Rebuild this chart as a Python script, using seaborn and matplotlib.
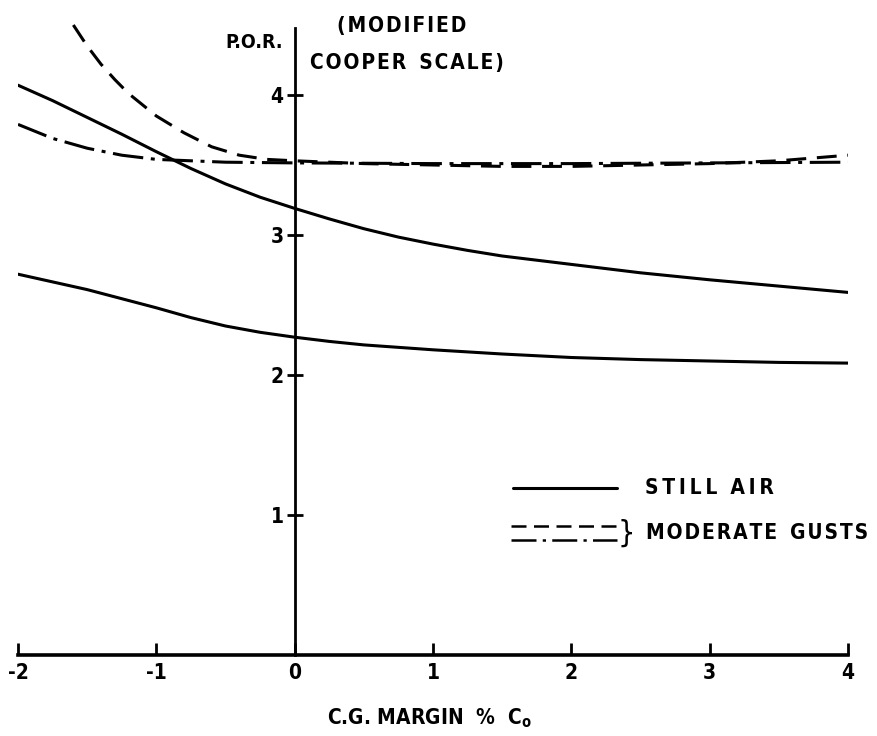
import matplotlib
matplotlib.use("Agg")
import matplotlib.pyplot as plt
import seaborn as sns

# ---- data ----
still_hi_x = [-2.0, -1.75, -1.5, -1.25, -1.0, -0.75, -0.5, -0.25, 0.0, 0.25, 0.5, 0.75,
              1.0, 1.25, 1.5, 1.75, 2.0, 2.5, 3.0, 3.5, 4.0]
still_hi_y = [4.07, 3.96, 3.84, 3.72, 3.595, 3.475, 3.365, 3.27, 3.19, 3.115, 3.045, 2.985,
              2.935, 2.89, 2.85, 2.82, 2.79, 2.73, 2.68, 2.635, 2.59]

still_lo_x = [-2.0, -1.5, -1.0, -0.75, -0.5, -0.25, 0.0, 0.25, 0.5, 1.0, 1.5, 2.0, 2.5, 3.0, 3.5, 4.0]
still_lo_y = [2.72, 2.61, 2.48, 2.41, 2.35, 2.305, 2.27, 2.24, 2.215, 2.18, 2.15, 2.125, 2.11, 2.10, 2.09, 2.085]

gust_dash_x = [-1.6, -1.5, -1.4, -1.3, -1.2, -1.1, -1.0, -0.9, -0.8, -0.7, -0.6, -0.5, -0.4,
               -0.3, -0.2, 0.0, 0.5, 1.0, 1.5, 2.0, 2.5, 3.0, 3.5, 4.0]
gust_dash_y = [4.50, 4.35, 4.22, 4.11, 4.01, 3.93, 3.85, 3.79, 3.73, 3.68, 3.63, 3.60, 3.57,
               3.555, 3.54, 3.53, 3.51, 3.50, 3.49, 3.49, 3.50, 3.51, 3.53, 3.57]

gust_dd_x = [-2.0, -1.875, -1.75, -1.625, -1.5, -1.375, -1.25, -1.125, -1.0, -0.75, -0.5,
             0.0, 1.0, 2.0, 3.0, 4.0]
gust_dd_y = [3.79, 3.74, 3.69, 3.655, 3.62, 3.595, 3.57, 3.555, 3.54, 3.53, 3.52,
             3.515, 3.51, 3.51, 3.515, 3.52]

x_ticks = [-2, -1, 0, 1, 2, 3, 4]
x_tick_labels = ["-2", "-1", "0", "1", "2", "3", "4"]
y_ticks = [1, 2, 3, 4]
y_tick_labels = ["1", "2", "3", "4"]


def spaced(s, sep='\u200a'):
    return sep.join(s)


sns.set_style("white")
plt.rcParams['font.family'] = ['DejaVu Sans']
plt.rcParams['font.stretch'] = 'condensed'
plt.rcParams['font.weight'] = 'bold'
plt.rcParams['text.color'] = 'black'
plt.rcParams['mathtext.default'] = 'regular'

fig = plt.figure(figsize=(8.78, 7.36), dpi=100)
ax = fig.add_axes([18/878, 1-655/736, (848-18)/878, (655-18)/736])
ax.set_xlim(-2, 4)
ax.set_ylim(0, 4.55)

LW = 2.2
sns.lineplot(x=still_hi_x, y=still_hi_y, ax=ax, color='black', lw=LW)
sns.lineplot(x=still_lo_x, y=still_lo_y, ax=ax, color='black', lw=LW)
sns.lineplot(x=gust_dash_x, y=gust_dash_y, ax=ax, color='black', lw=LW)
ax.lines[-1].set_dashes((6.5, 3.5))
sns.lineplot(x=gust_dd_x, y=gust_dd_y, ax=ax, color='black', lw=LW)
ax.lines[-1].set_dashes((10, 2.5, 1.3, 2.5))

# spines
for s in ['top', 'right']:
    ax.spines[s].set_visible(False)
ax.spines['left'].set_position(('data', 0))
ax.spines['left'].set_bounds(0, 4.48)
ax.spines['left'].set_linewidth(2.0)
ax.spines['bottom'].set_linewidth(2.6)
ax.spines['bottom'].set_color('black')
ax.spines['left'].set_color('black')

ax.set_xticks(x_ticks)
ax.set_xticklabels(x_tick_labels, fontsize=15, fontweight='bold', color='black')
ax.set_yticks(y_ticks)
ax.set_yticklabels(y_tick_labels, fontsize=15, fontweight='bold', color='black')
ax.tick_params(axis='x', bottom=True, direction='in', length=9, width=2, pad=6, colors='black')
ax.tick_params(axis='y', left=True, direction='inout', length=12, width=2, pad=2, colors='black')
ax.set_xlabel("")
ax.set_ylabel("")

# texts
fs = 15
fig.text(254/878, 1-43/736, "P.O.R.", ha='center', va='center', fontsize=14, fontweight='bold')
fig.text(402/878, 1-26/736, spaced("(MODIFIED"), ha='center', va='center', fontsize=fs, fontweight='bold')
fig.text(407/878, 1-63/736, spaced("COOPER") + "  " + spaced("SCALE)"), ha='center', va='center', fontsize=fs, fontweight='bold')
fig.text(430/878, 1-718/736, r"C.G. MARGIN  %  C$_\mathregular{o}$", ha='center', va='center', fontsize=fs, fontweight='bold')

# legend (drawn manually to match the hand-drawn key)
trans = fig.transFigure
fig.add_artist(plt.Line2D([513/878, 617/878], [1-488/736, 1-488/736], transform=trans, color='black', lw=LW))
fig.add_artist(plt.Line2D([511/878, 617/878], [1-526/736, 1-526/736], transform=trans, color='black', lw=1.8, dashes=(6, 3)))
fig.add_artist(plt.Line2D([511/878, 617/878], [1-540/736, 1-540/736], transform=trans, color='black', lw=1.8, dashes=(10, 2.5, 1.3, 2.5)))
fig.text(645/878, 1-488/736, spaced("STILL", '\u2009') + "  " + spaced("AIR", '\u2009'), ha='left', va='center', fontsize=fs, fontweight='bold')
fig.text(618/878, 1-533/736, "}", ha='left', va='center', fontsize=22, fontweight='normal')
fig.text(646/878, 1-533/736, spaced("MODERATE") + "  " + spaced("GUSTS"), ha='left', va='center', fontsize=fs, fontweight='bold')

fig.savefig("out.png", dpi=100)
